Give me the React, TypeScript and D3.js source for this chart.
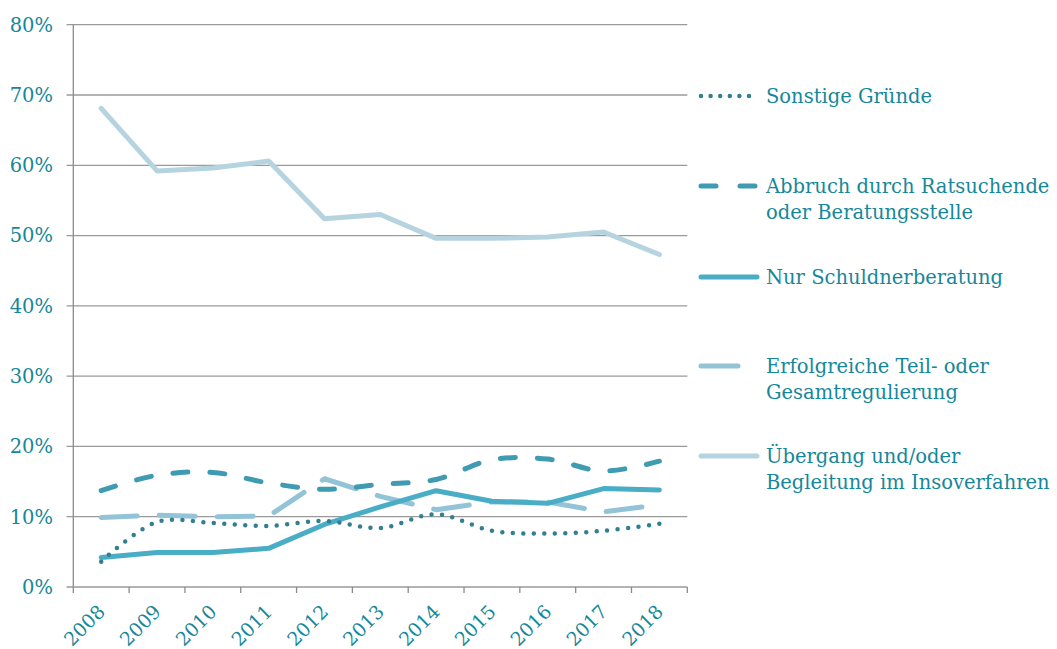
import React from "react";
import * as d3 from "d3";

const years = ["2008","2009","2010","2011","2012","2013","2014","2015","2016","2017","2018"];
const yTicks = [0, 10, 20, 30, 40, 50, 60, 70, 80];

const sonstige = [3.6, 9.25, 9.1, 8.7, 9.4, 8.4, 10.35, 8.0, 7.6, 8.0, 9.0];
const abbruch = [13.7, 15.9, 16.3, 14.8, 13.9, 14.6, 15.3, 18.1, 18.2, 16.5, 17.9];
const nurSchuldner = [4.2, 4.9, 4.9, 5.5, 8.9, 11.4, 13.7, 12.2, 11.9, 14.0, 13.8];
const erfolgreiche = [9.9, 10.2, 10.0, 10.1, 15.4, 12.9, 11.0, 12.1, 12.1, 10.7, 11.7];
const uebergang = [68.1, 59.2, 59.6, 60.6, 52.4, 53.0, 49.6, 49.6, 49.8, 50.5, 47.3];

const seriesNames = [
  ["Sonstige Gründe"],
  ["Abbruch durch Ratsuchende", "oder Beratungsstelle"],
  ["Nur Schuldnerberatung"],
  ["Erfolgreiche Teil- oder", "Gesamtregulierung"],
  ["Übergang und/oder", "Begleitung im Insoverfahren"],
];
const seriesData = [sonstige, abbruch, nurSchuldner, erfolgreiche, uebergang];

const styles = [
  { color: "#317f91", width: 4.5, dash: "0 10.5", cap: "round", smooth: true },
  { color: "#3e9bb1", width: 5, dash: "15 22", cap: "round", smooth: true },
  { color: "#4aadc6", width: 5, dash: null, cap: "round", smooth: false },
  { color: "#93c3d6", width: 5, dash: "36 22", cap: "round", smooth: false },
  { color: "#b6d4df", width: 5, dash: null, cap: "round", smooth: false },
];
const legendY = [96, 186, 277, 366, 456];

const W = 1057, H = 649;
const TEXT = "#16879a";
const FONT = "'DejaVu Serif', serif";

export default function App() {
  const x = d3.scaleBand().domain(years).range([73.3, 687.3]);
  const y = d3.scaleLinear().domain([0, 80]).range([587, 24.7]);
  const cx = (i: number) => (x(years[i]) as number) + x.bandwidth() / 2;

  const lineStraight = d3.line<number>().x((_, i) => cx(i)).y(d => y(d));
  const lineSmooth = d3.line<number>().x((_, i) => cx(i)).y(d => y(d)).curve(d3.curveCatmullRom.alpha(0.5));

  const tickXs = years.map(yr => x(yr) as number).concat([x.range()[1]]);

  return (
    <div style={{ position: "absolute", left: 0, top: 0 }}>
      <svg width={W} height={H} style={{ display: "block", background: "#fff" }}>
        {yTicks.map(t => (
          <line key={t} x1={66.5} x2={687.3} y1={y(t)} y2={y(t)} stroke="#9a9a9a" strokeWidth={1.3} />
        ))}
        <line x1={73.3} x2={73.3} y1={y(80)} y2={y(0)} stroke="#8c8c8c" strokeWidth={1.3} />
        {tickXs.map((tx, i) => (
          <line key={i} x1={tx} x2={tx} y1={y(0)} y2={y(0) + 6} stroke="#8c8c8c" strokeWidth={1.3} />
        ))}
        {yTicks.map(t => (
          <text key={t} x={53} y={y(t)} dy="0.35em" textAnchor="end" fill={TEXT}
            fontFamily={FONT} fontSize={19.5}>{t}%</text>
        ))}
        {years.map((yr, i) => (
          <text key={yr} transform={`translate(${cx(i) + 5},${y(0) + 26}) rotate(-45)`}
            textAnchor="end" fill={TEXT} fontFamily={FONT} fontSize={19}>{yr}</text>
        ))}
        {[4, 3, 2, 1, 0].map(si => {
          const s = styles[si];
          const gen = s.smooth ? lineSmooth : lineStraight;
          return (
            <path key={si} d={gen(seriesData[si]) as string} fill="none" stroke={s.color}
              strokeWidth={s.width} strokeDasharray={s.dash ?? undefined}
              strokeLinecap={s.cap as any} strokeLinejoin="round" />
          );
        })}
        {seriesNames.map((lines, si) => {
          const s = styles[si];
          const ly = legendY[si];
          return (
            <g key={si}>
              <line x1={701} x2={757} y1={ly} y2={ly} stroke={s.color} strokeWidth={s.width}
                strokeDasharray={si === 0 ? "0 9.6" : si === 1 ? "15 24" : si === 3 ? "37 30" : undefined}
                strokeLinecap="round" />
              {lines.map((ln, li) => (
                <text key={li} x={766} y={ly + li * 26} dy="0.35em" fill={TEXT}
                  fontFamily={FONT} fontSize={19.5}>{ln}</text>
              ))}
            </g>
          );
        })}
      </svg>
    </div>
  );
}
